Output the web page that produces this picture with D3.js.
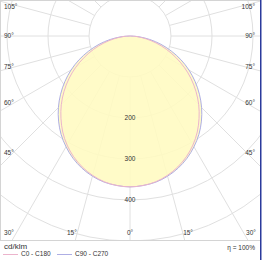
<!DOCTYPE html>
<html><head><meta charset="utf-8">
<script src="https://cdn.jsdelivr.net/npm/d3@7"></script>
<style>body{margin:0;background:#fff}svg{display:block;font-family:"Liberation Sans",Arial,sans-serif}</style>
</head><body>
<svg id="c" width="280" height="260"></svg>
<script>
const angles = [0,5,10,15,20,25,30,35,40,45,50,55,60,65,70,75,80,85,90];
const c0c180 = [368,366,361,352,340,325,307,286,262,237,210,182,153,123,94,66,40,17,0];
const c90c270 = [368,366,362,354,343,329,312,293,271,247,221,194,166,137,107,78,49,22,0];
const ringValues = [100,200,300,400,500,600];
const ringLabels = [200,300,400];
const angleLabels = [105,90,75,60,45,30,15,0];
const spokeAngles = d3.range(0,360,15);
const unit = "cd/klm";
const seriesNames = ["C0 - C180","C90 - C270"];
const etaText = "η = 100%";

const svg = d3.select("#c");
const cx = 130, cy = 36;
const r = d3.scaleLinear().domain([0,100]).range([0,41]);
const plot = {x0:0, y0:0, x1:260, y1:240};
const grid = "#e0e0e0";

svg.append("defs").append("clipPath").attr("id","pc").append("rect")
  .attr("x",plot.x0).attr("y",plot.y0).attr("width",plot.x1-plot.x0).attr("height",plot.y1-plot.y0);
const g = svg.append("g").attr("clip-path","url(#pc)");

const pt = (a,v,side) => { const t=a*Math.PI/180; return [cx+side*r(v)*Math.sin(t), cy+r(v)*Math.cos(t)]; };

g.selectAll("circle.ring").data(ringValues).join("circle")
  .attr("cx",cx).attr("cy",cy).attr("r",d=>r(d))
  .attr("fill","none").attr("stroke",grid).attr("stroke-width",1);
const rMin = ringValues[0], rMax = 1000;
g.selectAll("line.spoke").data(spokeAngles).join("line")
  .attr("x1",d=>pt(d,rMin,1)[0]).attr("y1",d=>pt(d,rMin,1)[1])
  .attr("x2",d=>pt(d,rMax,1)[0]).attr("y2",d=>pt(d,rMax,1)[1])
  .attr("stroke",grid).attr("stroke-width",1);

function fullCurve(vals){
  const right = angles.map((a,i)=>pt(a,vals[i],1));
  const left = angles.map((a,i)=>pt(a,vals[i],-1)).reverse();
  return left.concat(right.slice(1));
}
const line = d3.line().curve(d3.curveCatmullRomClosed.alpha(0.5));
const p0 = fullCurve(c0c180), p90 = fullCurve(c90c270);
g.append("path").attr("d",line(p90)).attr("fill","#fffbc0").attr("fill-opacity",0.88).attr("stroke","none");
g.append("path").attr("d",line(p90)).attr("fill","none").attr("stroke","#aeaee4").attr("stroke-width",1);
g.append("path").attr("d",line(p0)).attr("fill","none").attr("stroke","#ecb4cc").attr("stroke-width",1);

svg.selectAll("text.rl").data(ringLabels).join("text")
  .attr("x",cx).attr("y",d=>cy+r(d)).attr("text-anchor","middle").attr("dominant-baseline","middle")
  .attr("font-size",6.5).attr("fill","#333").text(d=>d);

const xl=13, xr=247, yb=233;
angleLabels.forEach(a=>{
  const t=a*Math.PI/180, s=Math.sin(t), c=Math.cos(t);
  const tx = s>1e-6 ? (cx-xl)/s : Infinity;
  const ty = c>1e-6 ? (yb-cy)/c : Infinity;
  if (tx <= ty){
    const y = Math.max(7, cy + tx*c);
    svg.append("text").attr("x",4).attr("y",y).attr("dominant-baseline","middle").attr("font-size",6.5).attr("fill","#333").text(a+"°");
    svg.append("text").attr("x",255).attr("y",y).attr("text-anchor","end").attr("dominant-baseline","middle").attr("font-size",6.5).attr("fill","#333").text(a+"°");
  } else {
    const dx = ty*s*1.1;
    [-1,1].forEach(sd=>{
      if (a===0 && sd===1) return;
      let x = cx + sd*dx;
      x = Math.max(9, Math.min(251, x));
      svg.append("text").attr("x",x).attr("y",yb).attr("text-anchor","middle").attr("dominant-baseline","middle").attr("font-size",6.5).attr("fill","#333").text(a+"°");
    });
  }
});

svg.append("line").attr("x1",0.5).attr("y1",0).attr("x2",0.5).attr("y2",240).attr("stroke","#d4d4d4");
svg.append("line").attr("x1",0).attr("y1",0.5).attr("x2",260).attr("y2",0.5).attr("stroke","#d4d4d4");
svg.append("line").attr("x1",0).attr("y1",240.5).attr("x2",260).attr("y2",240.5).attr("stroke","#d4d4d4");
svg.append("line").attr("x1",260.75).attr("y1",0).attr("x2",260.75).attr("y2",260).attr("stroke","#2b3a9c").attr("stroke-width",1.5);

svg.append("text").attr("x",4).attr("y",247).attr("dominant-baseline","middle").attr("font-size",8).attr("fill","#333").text(unit);
const lg = [{x:3,c:"#ecb4cc"},{x:57,c:"#aeaee4"}];
lg.forEach((d,i)=>{
  svg.append("line").attr("x1",d.x).attr("x2",d.x+15).attr("y1",254.5).attr("y2",254.5).attr("stroke",d.c);
  svg.append("text").attr("x",d.x+18).attr("y",254.5).attr("dominant-baseline","middle").attr("font-size",6.5).attr("fill","#333").text(seriesNames[i]);
});
svg.append("text").attr("x",255).attr("y",248).attr("text-anchor","end").attr("dominant-baseline","middle").attr("font-size",6.5).attr("fill","#333").text(etaText);
</script>
</body></html>
